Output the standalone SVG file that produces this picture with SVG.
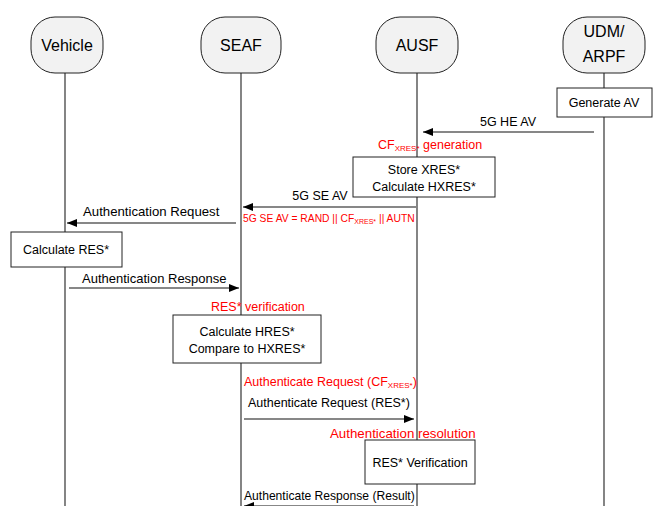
<svg xmlns="http://www.w3.org/2000/svg" width="659" height="506" viewBox="0 0 659 506">
<style>
text{font-family:"Liberation Sans",Arial,sans-serif;fill:#000}
.node rect{fill:#f2f2f2;stroke:#222;stroke-width:1}
.nt{font-size:16px;text-anchor:middle}
.life{stroke:#333;stroke-width:1.2;fill:none}
.box{fill:#fff;stroke:#222;stroke-width:1}
.msg{stroke:#111;stroke-width:1.2;fill:none}
.t{font-size:12.5px}
.c{text-anchor:middle}
.r{fill:#ff0000}
.sub{font-size:8px}
</style>
<defs>
<marker id="ah" viewBox="0 0 10 8" refX="10" refY="4" markerWidth="10" markerHeight="8" markerUnits="userSpaceOnUse" orient="auto">
<path d="M0,0 L10,4 L0,8 z" fill="#000"/>
</marker>
</defs>
<g id="lifelines">
<line class="life" x1="65" y1="73" x2="65" y2="506"/>
<line class="life" x1="241" y1="73" x2="241" y2="506"/>
<line class="life" x1="417" y1="73" x2="417" y2="506"/>
<line class="life" x1="604" y1="73" x2="604" y2="506"/>
</g>
<g id="vehicle" class="node"><rect x="31" y="17" width="72" height="56" rx="24"/><text class="nt" x="67" y="51">Vehicle</text></g>
<g id="seaf" class="node"><rect x="201" y="17" width="80" height="56" rx="24"/><text class="nt" x="241" y="51">SEAF</text></g>
<g id="ausf" class="node"><rect x="376" y="17" width="82" height="56" rx="24"/><text class="nt" x="417" y="51">AUSF</text></g>
<g id="udm" class="node"><rect x="563" y="17" width="82" height="56" rx="24"/><text class="nt" x="604" y="37">UDM/</text><text class="nt" x="604" y="62">ARPF</text></g>

<g id="generate-av"><rect class="box" x="557" y="88" width="95" height="29"/><text class="t c" x="604" y="107">Generate AV</text></g>
<g id="store-xres"><rect class="box" x="353" y="157" width="142" height="40"/><text class="t c" x="424" y="174">Store XRES*</text><text class="t c" x="424" y="191">Calculate HXRES*</text></g>
<g id="calc-res"><rect class="box" x="11" y="232" width="111" height="35"/><text class="t c" x="66" y="254">Calculate RES*</text></g>
<g id="calc-hres"><rect class="box" x="173" y="315" width="148" height="48"/><text class="t c" x="247" y="336">Calculate HRES*</text><text class="t c" x="247" y="353">Compare to HXRES*</text></g>
<g id="res-verif"><rect class="box" x="365" y="440" width="110" height="44"/><text class="t c" x="420" y="467">RES* Verification</text></g>

<g id="connectors">
<line class="msg" x1="594" y1="132" x2="423" y2="132" marker-end="url(#ah)"/>
<line class="msg" x1="416" y1="207" x2="243" y2="207" marker-end="url(#ah)"/>
<line class="msg" x1="236" y1="223" x2="67" y2="223" marker-end="url(#ah)"/>
<line class="msg" x1="69" y1="288" x2="239" y2="288" marker-end="url(#ah)"/>
<line class="msg" x1="244" y1="419" x2="414" y2="419" marker-end="url(#ah)"/>
<line class="msg" x1="414" y1="506" x2="244" y2="506" marker-end="url(#ah)"/>
</g>

<g id="labels">
<text class="t c" x="508" y="126">5G HE AV</text>
<text class="t r" x="378" y="149">CF<tspan class="sub" dy="2">XRES*</tspan><tspan dy="-2"> generation</tspan></text>
<text class="t c" x="320" y="200">5G SE AV</text>
<text class="t" style="font-size:13.2px" x="83" y="216">Authentication Request</text>
<text class="r" style="font-size:10.3px" x="243" y="222">5G SE AV = RAND || CF<tspan style="font-size:7px" dy="1.5">XRES*</tspan><tspan dy="-1.5"> || AUTN</tspan></text>
<text class="t" style="font-size:13px" x="82" y="283">Authentication Response</text>
<text class="t r" x="211" y="311">RES* verification</text>
<text class="t r" x="244" y="386">Authenticate Request (CF<tspan class="sub" dy="2">XRES*</tspan><tspan dy="-2">)</tspan></text>
<text class="t" x="248" y="407">Authenticate Request (RES*)</text>
<text class="t r" style="font-size:13.3px" x="330" y="438">Authentication resolution</text>
<text class="t" style="font-size:12.1px" x="244" y="500">Authenticate Response (Result)</text>
</g>
</svg>
